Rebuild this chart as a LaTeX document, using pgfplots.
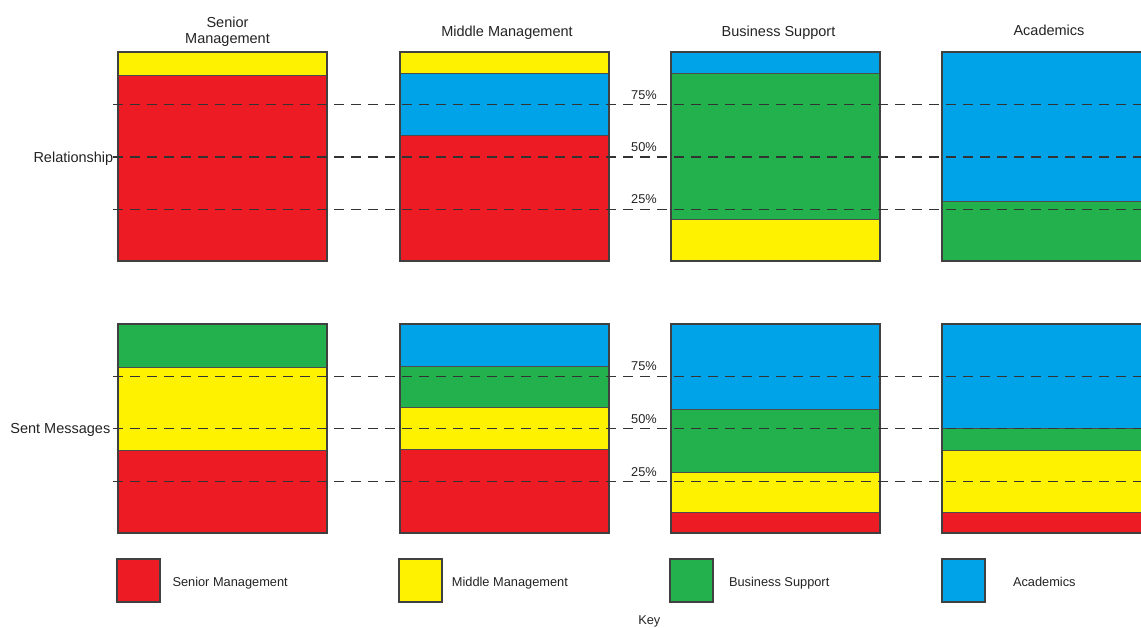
\documentclass[border=0pt]{standalone}
\usepackage{pgfplots}
\pgfplotsset{compat=1.18}
\usepackage{fontspec}
\setmainfont{Liberation Sans}
\definecolor{cRed}{RGB}{237,28,36}
\definecolor{cYel}{RGB}{255,242,0}
\definecolor{cGrn}{RGB}{34,177,76}
\definecolor{cBlu}{RGB}{0,162,232}
\definecolor{cFrame}{RGB}{64,64,64}
\definecolor{cTxt}{RGB}{35,35,35}
\pgfplotsset{
  panel/.style={scale only axis, width=209pt, height=209pt, anchor=south west,
    xmin=-0.5, xmax=0.5, ymin=0, ymax=100, ybar stacked, bar width=1,
    xtick=\empty, ytick=\empty, axis on top,
    axis line style={draw=cFrame, line width=2pt}},
  seg/.style={fill=#1, draw=black!70, line width=0.7pt},
  rowlay/.style={scale only axis, width=1141pt, height=209pt, anchor=south west,
    xmin=0, xmax=1141, ymin=0, ymax=100, hide axis, clip=false},
  ref/.style={draw=black!80, line width=1.1pt, dash pattern=on 10pt off 7pt},
}
\tikzset{
  big/.style={font=\fontsize{14.5}{16}\selectfont, text=cTxt, inner sep=0pt},
  small/.style={font=\fontsize{12.8}{14}\selectfont, text=cTxt, inner sep=0pt},
}
\begin{document}
\begin{tikzpicture}
\useasboundingbox (0,0) rectangle (1141pt,-628pt);
% ---------- Row 1: Relationship ----------
\begin{axis}[panel, at={(117.5pt,-261.5pt)}]
  \addplot[seg=cRed] coordinates {(0,89)};
  \addplot[seg=cYel] coordinates {(0,11)};
\end{axis}
\begin{axis}[panel, at={(400pt,-261.5pt)}]
  \addplot[seg=cRed] coordinates {(0,60.5)};
  \addplot[seg=cBlu] coordinates {(0,29.5)};
  \addplot[seg=cYel] coordinates {(0,10)};
\end{axis}
\begin{axis}[panel, at={(671pt,-261.5pt)}]
  \addplot[seg=cYel] coordinates {(0,20)};
  \addplot[seg=cGrn] coordinates {(0,70)};
  \addplot[seg=cBlu] coordinates {(0,10)};
\end{axis}
\begin{axis}[panel, at={(942.3pt,-261.5pt)}]
  \addplot[seg=cGrn] coordinates {(0,29)};
  \addplot[seg=cBlu] coordinates {(0,71)};
\end{axis}
% ---------- Row 2: Sent Messages ----------
\begin{axis}[panel, at={(117.5pt,-533.3pt)}]
  \addplot[seg=cRed] coordinates {(0,39.7)};
  \addplot[seg=cYel] coordinates {(0,39.7)};
  \addplot[seg=cGrn] coordinates {(0,20.6)};
\end{axis}
\begin{axis}[panel, at={(400pt,-533.3pt)}]
  \addplot[seg=cRed] coordinates {(0,40)};
  \addplot[seg=cYel] coordinates {(0,20.3)};
  \addplot[seg=cGrn] coordinates {(0,19.7)};
  \addplot[seg=cBlu] coordinates {(0,20)};
\end{axis}
\begin{axis}[panel, at={(671pt,-533.3pt)}]
  \addplot[seg=cRed] coordinates {(0,10)};
  \addplot[seg=cYel] coordinates {(0,19.3)};
  \addplot[seg=cGrn] coordinates {(0,30)};
  \addplot[seg=cBlu] coordinates {(0,40.7)};
\end{axis}
\begin{axis}[panel, at={(942.3pt,-533.3pt)}]
  \addplot[seg=cRed] coordinates {(0,10)};
  \addplot[seg=cYel] coordinates {(0,29.8)};
  \addplot[seg=cGrn] coordinates {(0,10.2)};
  \addplot[seg=cBlu] coordinates {(0,50)};
\end{axis}
% ---------- reference lines ----------
\begin{axis}[rowlay, at={(0pt,-261.5pt)}]
  \addplot[ref] coordinates {(113,25) (1141,25)};
  \addplot[ref] coordinates {(113,50) (1141,50)};
  \addplot[ref] coordinates {(113,75) (1141,75)};
\end{axis}
\begin{axis}[rowlay, at={(0pt,-533.3pt)}]
  \addplot[ref] coordinates {(113,25) (1141,25)};
  \addplot[ref] coordinates {(113,50) (1141,50)};
  \addplot[ref] coordinates {(113,75) (1141,75)};
\end{axis}
% ---------- annotations (pixel coordinates) ----------
\begin{axis}[scale only axis, width=1141pt, height=628pt, at={(0pt,-628pt)}, anchor=south west,
  xmin=0, xmax=1141, ymin=0, ymax=628, y dir=reverse, hide axis, clip=false]
  \node[big, anchor=base] at (axis cs:227.5,27.3) {Senior};
  \node[big, anchor=base] at (axis cs:227.5,43.3) {Management};
  \node[big, anchor=base] at (axis cs:507,36.5) {Middle Management};
  \node[big, anchor=base] at (axis cs:778.5,36.3) {Business Support};
  \node[big, anchor=base] at (axis cs:1049,35.8) {Academics};
  \node[big, anchor=base east] at (axis cs:113.5,162.5) {Relationship};
  \node[big, anchor=base east] at (axis cs:110.5,433.3) {Sent Messages};
  \node[small, anchor=base] at (axis cs:644,99) {75\%};
  \node[small, anchor=base] at (axis cs:644,151.5) {50\%};
  \node[small, anchor=base] at (axis cs:644,203.5) {25\%};
  \node[small, anchor=base] at (axis cs:644,370.7) {75\%};
  \node[small, anchor=base] at (axis cs:644,423.5) {50\%};
  \node[small, anchor=base] at (axis cs:644,476.5) {25\%};
  % key
  \draw[fill=cRed, draw=cFrame, line width=2pt] (axis cs:117,559) rectangle (axis cs:160,602);
  \draw[fill=cYel, draw=cFrame, line width=2pt] (axis cs:399,559) rectangle (axis cs:442,602);
  \draw[fill=cGrn, draw=cFrame, line width=2pt] (axis cs:670,559) rectangle (axis cs:713,602);
  \draw[fill=cBlu, draw=cFrame, line width=2pt] (axis cs:942,559) rectangle (axis cs:985,602);
  \node[small, anchor=base west] at (axis cs:172.3,586.5) {Senior Management};
  \node[small, anchor=base west] at (axis cs:451.7,586.5) {Middle Management};
  \node[small, anchor=base west] at (axis cs:728.8,586.5) {Business Support};
  \node[small, anchor=base west] at (axis cs:1012.8,586.5) {Academics};
  \node[small, anchor=base] at (axis cs:649.3,624.5) {Key};
\end{axis}
\end{tikzpicture}
\end{document}
